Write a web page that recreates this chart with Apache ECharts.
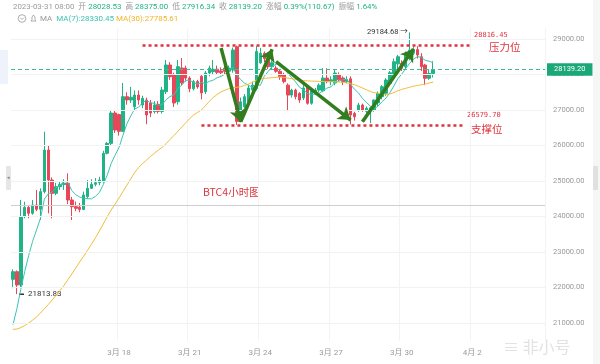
<!DOCTYPE html>
<html><head><meta charset="utf-8">
<script src="https://cdn.jsdelivr.net/npm/echarts@6/dist/echarts.min.js"></script>
<style>html,body{margin:0;padding:0;background:#fff}#c{width:600px;height:364px}</style>
</head><body><div id="c"></div>
<script>
// ---- data ----
const startTime = Date.UTC(2023, 2, 13, 12, 0, 0); // first 4h candle
const slotCount = 136;                              // 4h slots shown on the axis
const xLabelDates = ['2023-03-18','2023-03-21','2023-03-24','2023-03-27','2023-03-30','2023-04-02'];
const opens = [
 22231,22445,22070,23994,24259,24090,24324,24203,24700,25873,
 25028,24653,24840,24900,24935,24465,24276,24260,24200,24560,
 24794,24907,24952,25000,25780,26060,26915,26870,26400,27375,
 27282,27093,27422,27140,27282,27197,26952,27160,26960,27515,
 28268,27986,27234,28183,28180,27900,27600,27800,27950,27515,
 28042,28080,28150,28100,28180,28090,28127,28780,26700,27093,
 27234,27563,27600,28330,28600,28450,28220,28180,28090,28000,
 27700,27420,27560,27470,27340,27660,27190,27480,27560,27540,
 27900,27800,27760,28000,27900,27800,27880,26900,27000,27140,
 26960,26980,27000,27200,27375,27470,27750,27950,28300,28315,
 28220,28456,28600,28700,28500,28268,27893,28028.53];
const closes = [
 22445,22070,23994,24259,24090,24324,24203,24700,25873,25028,
 24653,24840,24900,24935,24465,24276,24230,24200,24606,24794,
 24907,24952,25028,25780,26060,26915,26437,26400,27375,27282,
 27360,27422,27282,27330,26859,26915,27141,26960,27563,28268,
 27938,27197,28220,27760,27900,27600,27800,27650,27480,28042,
 28180,28150,28060,28050,28090,28180,28690,26680,27230,27375,
 27620,27704,28650,28600,28450,28220,28330,28090,27940,27800,
 27420,27560,27375,27282,27620,27190,27563,27560,27700,27900,
 27800,27850,28042,27850,27800,27860,26860,26810,27141,26990,
 27050,27060,27280,27470,27655,27845,28050,28360,28500,28175,
 28550,28690,28700,28550,28220,27893,28028.53,28139.20];
const lows = [
 21980,21813.83,22000,23950,23949,24050,24150,23901,24650,24090,
 23949,24600,24750,24750,24350,23901,24150,24120,24180,24500,
 24780,24850,24880,24950,25750,26000,26350,26280,26380,27150,
 27200,27000,27150,27050,26600,26800,26900,26900,26900,27450,
 27850,27085,27150,27700,27800,27500,27550,27600,27300,27450,
 27950,28000,28000,27980,28000,28000,28050,26579.70,26650,27050,
 27200,27500,27550,28300,28350,28150,28150,28050,27850,27750,
 27000,27350,27300,27200,27280,27150,27150,27420,27500,27500,
 27750,27700,27700,27800,27700,27750,26590,26700,26950,26950,
 26900,26630,26950,27100,27300,27400,27700,27900,28100,28100,
 28150,28400,28550,28450,28100,27700,27850,27916.34];
const highs = [
 22510,22480,24465,24417,24300,24465,24746,24794,26389,26014,
 25100,24950,25000,25050,25217,24550,24420,24380,24700,25028,
 25050,25080,25120,25850,26100,27000,26980,26900,27760,27500,
 27650,27550,27550,27400,27350,27280,27250,27250,27650,28408,
 28350,28050,28408,28465,28250,27950,27850,27850,28000,28100,
 28250,28408,28250,28200,28250,28250,28760,28816.45,27350,27450,
 27700,27800,28800,28750,28650,28500,28400,28250,28150,28050,
 27750,27600,27600,27500,27700,27700,27600,27620,27750,28180,
 28175,27950,28150,28060,27950,27950,27950,26950,27200,27180,
 27100,27100,27300,27520,27700,27900,28100,28450,28550,28400,
 28650,29184.68,28780,28800,28600,28300,28150,28375];
const ma7 = [
 20950,21400,21950,22450,22900,23300,23620,23949,24492,24640,
 24696,24803,24885,24990,24956,24728,24614,24549,24516,24501,
 24497,24566,24674,24895,25161,25491,25726,25939,26285,26607,
 26833,27027,27080,27207,27273,27207,27187,27130,27150,27291,
 27378,27426,27612,27701,27835,27840,27774,27732,27773,27747,
 27807,27843,27909,27945,28007,28107,28200,27986,27854,27756,
 27695,27640,27707,27694,27947,28088,28225,28292,28326,28204,
 28036,27909,27788,27638,27571,27464,27430,27450,27470,27545,
 27619,27652,27774,27815,27849,27872,27723,27582,27480,27330,
 27216,27110,27027,27114,27235,27336,27487,27674,27880,28008,
 28162,28310,28432,28504,28484,28397,28376,28330.45];
const ma30 = [
 20820,20830,20870,20930,21000,21080,21170,21280,21400,21520,
 21650,21780,21920,22060,22220,22380,22550,22720,22880,23050,
 23220,23400,23590,23790,23990,24180,24350,24520,24700,24880,
 25060,25240,25380,25490,25590,25690,25780,25870,25950,26050,
 26170,26280,26400,26520,26640,26760,26860,26930,27000,27120,
 27240,27350,27440,27510,27560,27600,27630,27640,27660,27690,
 27730,27780,27840,27870,27890,27900,27910,27920,27930,27920,
 27900,27880,27860,27845,27830,27820,27815,27810,27805,27800,
 27800,27800,27795,27790,27780,27765,27740,27710,27670,27620,
 27570,27520,27490,27470,27450,27440,27450,27490,27540,27580,
 27610,27640,27670,27690,27710,27730,27760,27785.61];
const yTicks = [21000,22000,23000,24000,25000,26000,27000,28000,29000];
const resistance = 28816.45;
const support = 26579.70;
const lastPrice = 28139.20;
const baseLine = 24330;
// arrow annotations: [startIndex, startPrice, endIndex, endPrice]
const arrows = [
 [53, 28746, 58, 26670],
 [58, 26670, 66, 28710],
 [67, 28361, 86, 26718],
 [89, 26670, 102, 28718]];

// ---- build ----
const categories = [];
for (let i = 0; i < slotCount; i++) {
  const d = new Date(startTime + i * 4 * 3600 * 1000);
  categories.push(d.toISOString().slice(0, 16).replace('T', ' '));
}
const kData = opens.map((o, i) => [o, closes[i], lows[i], highs[i]]);
const isLabelSlot = (idx, v) => v.slice(11) === '00:00' && xLabelDates.includes(v.slice(0, 10));

const UP = '#1fb386', DOWN = '#e8475a', RED = '#e0323c', GREY = '#9a9a9a', TEAL = '#3dbb98';
const FONT = 'Roboto, "Noto Sans CJK SC", sans-serif';
const CJK = '"Noto Sans CJK SC", sans-serif';

const chart = echarts.init(document.getElementById('c'));
chart.setOption({
  animation: false,
  backgroundColor: '#ffffff',
  grid: {left: 11, right: 55, top: 28.35, bottom: 23.25},
  xAxis: {
    type: 'category', data: categories, boundaryGap: true,
    axisLine: {show: false}, axisTick: {show: false},
    axisLabel: {interval: isLabelSlot, color: GREY, fontSize: 8, fontFamily: FONT, margin: 8,
      formatter: v => (+v.slice(5, 7)) + '月 ' + (+v.slice(8, 10))},
    splitLine: {show: true, interval: isLabelSlot, lineStyle: {color: '#f3f3f3', width: 1}}
  },
  yAxis: {
    type: 'value', position: 'right', min: 20500, max: 29300, interval: 500,
    axisLine: {show: false}, axisTick: {show: false}, splitLine: {show: false},
    axisLabel: {color: GREY, fontSize: 7.5, fontFamily: FONT, margin: 8,
      formatter: v => (v % 1000 === 0 ? v.toFixed(2) : '')}
  },
  series: [
    {
      type: 'line', data: [], z: 0, silent: true,
      markLine: {silent: true, symbol: 'none', animation: false, label: {show: false},
        lineStyle: {color: '#f2f2f2', width: 1, type: 'solid'},
        data: yTicks.map(v => ({yAxis: v})).concat([{yAxis: baseLine, lineStyle: {color: '#cfcfcf', width: 1, type: 'solid'}}])}
    },
    {
      type: 'candlestick', name: 'K', data: kData, barWidth: 3,
      itemStyle: {color: UP, color0: DOWN, borderColor: UP, borderColor0: DOWN, borderWidth: 1},
      markLine: {silent: true, symbol: 'none', animation: false,
        lineStyle: {color: TEAL, width: 1, type: [4, 3]},
        label: {show: true, position: 'end', distance: 2, formatter: lastPrice.toFixed(2),
          backgroundColor: '#1aa878', color: '#fff', fontSize: 7.5, fontFamily: FONT, padding: [3, 7, 2, 7]},
        data: [{yAxis: lastPrice, lineStyle: {color: TEAL, width: 1, type: [4, 3]}}]}
    },
    {
      type: 'line', name: 'MA7', data: ma7, showSymbol: false, symbol: 'none',
      lineStyle: {color: '#3cc4b4', width: 1}, itemStyle: {color: '#3cc4b4'},
      markLine: {silent: true, symbol: 'none', animation: false, label: {show: false},
        lineStyle: {color: RED, width: 2.5, type: [3, 3]},
        data: [[{coord: [33, resistance]}, {coord: [117, resistance]}],
               [{coord: [48, support]}, {coord: [115, support]}]]}
    },
    {
      type: 'line', name: 'MA30', data: ma30, showSymbol: false, symbol: 'none',
      lineStyle: {color: '#f2bd3a', width: 1}, itemStyle: {color: '#f2bd3a'},
      markLine: {silent: true, symbol: ['none', 'arrow'], symbolSize: 12, animation: false, label: {show: false},
        lineStyle: {color: '#327d1e', width: 3.5, type: 'solid'},
        data: arrows.map(a => [{coord: [a[0], a[1]]}, {coord: [a[2], a[3]]}])}
    }
  ],
  graphic: [
    {type: 'rect', shape: {x: 0, y: 50, width: 8, height: 34}, style: {fill: '#eef3fb'}, silent: true},
    {type: 'rect', shape: {x: 6, y: 166, width: 5, height: 24, r: 1}, style: {fill: '#e6e6e6'}, silent: true},
    {type: 'text', x: 6.5, y: 178, style: {text: '◂', fontSize: 5, fill: '#777', verticalAlign: 'middle'}, silent: true},
    {type: 'rect', shape: {x: 593, y: 0, width: 7, height: 364}, style: {fill: '#f6f6f6'}, silent: true},
    {type: 'rect', shape: {x: 593, y: 166, width: 5, height: 24, r: 1}, style: {fill: '#e0e0e0'}, silent: true},
    {type: 'text', x: 13, y: 7, silent: true, style: {
      verticalAlign: 'middle', fontSize: 7.9, fontFamily: FONT, fill: GREY,
      text: '{g|2023-03-31 08:00  开 }{v|28028.53}{g|  高 }{v|28375.00}{g|  低 }{v|27916.34}{g|  收 }{v|28139.20}{g|  涨幅 }{v|0.39%(110.67)}{g|  振幅 }{v|1.64%}',
      rich: {g: {fill: GREY, fontSize: 7.9, fontFamily: FONT}, v: {fill: UP, fontSize: 7.9, fontFamily: FONT}}}},
    {type: 'circle', shape: {cx: 22, cy: 18.5, r: 3.8}, style: {fill: 'none', stroke: '#999', lineWidth: 0.8}, silent: true},
    {type: 'polyline', shape: {points: [[20.2, 17.7], [22, 19.5], [23.8, 17.7]]}, style: {fill: 'none', stroke: '#999', lineWidth: 0.8}, silent: true},
    {type: 'polygon', shape: {points: [[31, 21], [32, 19.5], [32, 17], [33.5, 15], [35, 17], [35, 19.5], [36, 21]]}, style: {fill: 'none', stroke: '#999', lineWidth: 0.8}, silent: true},
    {type: 'text', x: 40, y: 18.5, silent: true, style: {
      verticalAlign: 'middle', fontSize: 8, fontFamily: FONT,
      text: '{g|MA}  {a|MA(7):28330.45} {b|MA(30):27785.61}',
      rich: {g: {fill: GREY, fontSize: 8, fontFamily: FONT}, a: {fill: '#3cc4b4', fontSize: 8, fontFamily: FONT}, b: {fill: '#f2b52a', fontSize: 8, fontFamily: FONT}}}},
    {type: 'text', x: 474, y: 35, silent: true, style: {text: '28816.45', fontSize: 7, fontFamily: '"DejaVu Sans Mono", monospace', fill: RED, verticalAlign: 'middle'}},
    {type: 'text', x: 489, y: 47.5, silent: true, style: {text: '压力位', fontSize: 10.5, fontFamily: CJK, fill: RED, verticalAlign: 'middle'}},
    {type: 'text', x: 467, y: 115, silent: true, style: {text: '26579.70', fontSize: 7, fontFamily: '"DejaVu Sans Mono", monospace', fill: RED, verticalAlign: 'middle'}},
    {type: 'text', x: 471, y: 129.5, silent: true, style: {text: '支撑位', fontSize: 10.5, fontFamily: CJK, fill: RED, verticalAlign: 'middle'}},
    {type: 'text', x: 203, y: 192, silent: true, style: {text: 'BTC4小时图', fontSize: 10.5, fontFamily: CJK, fill: '#d9363e', verticalAlign: 'middle'}},
    {type: 'text', x: 367, y: 32, silent: true, style: {text: '29184.68 →', fontSize: 7.5, fontFamily: FONT, fill: '#333', verticalAlign: 'middle'}},
    {type: 'rect', shape: {x: 19, y: 293.5, width: 5, height: 1.5}, style: {fill: '#333'}, silent: true},
    {type: 'text', x: 28, y: 294, silent: true, style: {text: '21813.83', fontSize: 8, fontFamily: FONT, fill: '#333', verticalAlign: 'middle'}},
    {type: 'text', x: 503, y: 347, silent: true, style: {text: '≡ 非小号', fontSize: 16, fontFamily: CJK, fill: '#e2e2e2', verticalAlign: 'middle'}}
  ]
});
</script>
</body></html>
